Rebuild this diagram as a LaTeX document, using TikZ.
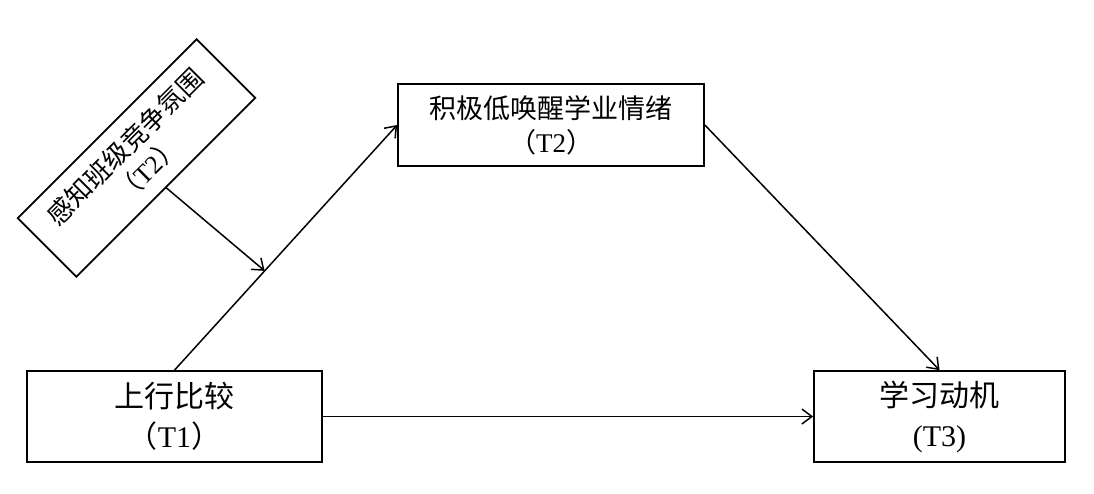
\documentclass[tikz,border=0pt]{standalone}
\usepackage{fontspec}
\setmainfont{Liberation Serif}
\newfontfamily\cjk{Noto Sans CJK SC}
\usetikzlibrary{arrows.meta,calc}
\begin{document}
\begin{tikzpicture}[x=1pt,y=-1pt,
  box/.style={draw,line width=1.7pt,rectangle,align=center,inner sep=0pt},
  arr/.style={line width=1.5pt,-{Straight Barb[length=10pt,width=15pt,line width=1.5pt]}}]
\useasboundingbox (0,0) rectangle (1094,494);
\node[box,minimum width=295pt,minimum height=91pt,font=\fontsize{30}{40}\selectfont] (t1) at (174.5,416.5) {{\cjk 上行比较}\\{\cjk （}T1{\cjk ）}};
\node[box,minimum width=306pt,minimum height=82pt,font=\fontsize{27}{34}\selectfont] (t2) at (551,125) {{\cjk 积极低唤醒学业情绪}\\{\cjk （}T2{\cjk ）}};
\node[box,minimum width=251pt,minimum height=91pt,font=\fontsize{30}{40}\selectfont] (t3) at (939.5,416.5) {{\cjk 学习动机}\\(T3)};
\node[box,rotate=45,minimum width=253pt,minimum height=83pt,font=\fontsize{26}{32}\selectfont] (mod) at (136.5,158) {{\cjk 感知班级竞争氛围}\\{\cjk （}T2{\cjk ）}};
\coordinate (m) at ($(t1.north)!0.405!(t2.west)$);
\draw[arr] (t1.north) -- (t2.west);
\draw[arr] (mod.south) -- (m);
\draw[arr] (t2.east) -- (t3.north);
\draw[arr] (t1.east) -- (t3.west);
\end{tikzpicture}
\end{document}
